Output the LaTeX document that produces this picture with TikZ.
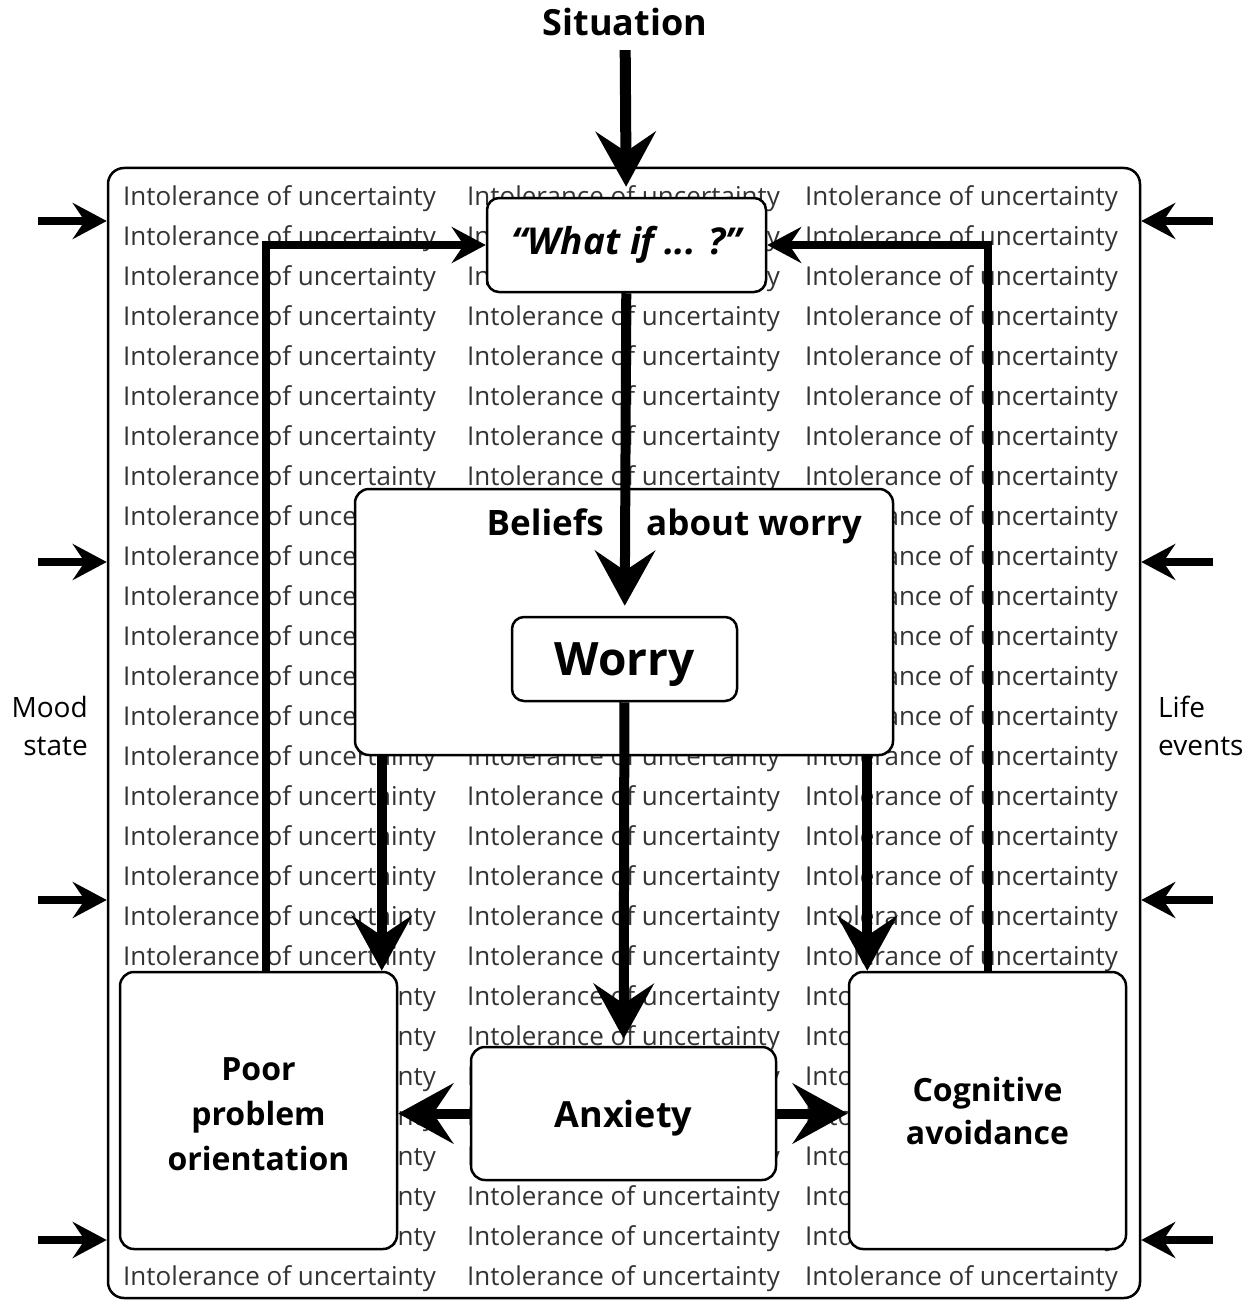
\documentclass[tikz,border=0pt]{standalone}
\usepackage{fontspec}
\setmainfont{Open Sans}
\usetikzlibrary{arrows.meta,calc}
\begin{document}
\begin{tikzpicture}[x=1pt,y=-1pt,
  box/.style={draw,line width=2.5pt,rounded corners=14pt,fill=white,inner sep=0pt},
  bgtext/.style={font=\fontsize{26}{26}\selectfont,text=black!80,inner sep=0pt,anchor=base west},
  bigarrow/.style={-{Stealth[length=55pt,width=60pt,inset=20pt]},line width=10pt},
  smallarrow/.style={-{Stealth[length=34pt,width=36pt,inset=12pt]},line width=8pt},
  boldlbl/.style={font=\bfseries\fontsize{35}{40}\selectfont,inner sep=0pt},
  sidelbl/.style={font=\fontsize{28}{38}\selectfont,inner sep=0pt},
]
\useasboundingbox (0,0) rectangle (1255,1300);

% outer frame
\node[draw,line width=2.5pt,rounded corners=16pt,minimum width=1032pt,minimum height=1130pt,inner sep=0pt] (frame) at (624,733) {};

% background text
\foreach \k in {0,...,27}{
  \foreach \x in {123,467,805}{
    \node[bgtext] (t-\k-\x) at (\x,{205+40*\k}) {Intolerance of uncertainty};
  }
}

% boxes
\node[box,rounded corners=12pt,minimum width=279pt,minimum height=94pt] (whatif) at (626.5,245)
  {\fontsize{37}{37}\selectfont\bfseries\itshape “What if ... ?”};
\node[box,minimum width=538pt,minimum height=266pt] (beliefs) at (624,622) {};
\node[boldlbl,anchor=base east] (bel1) at (604,535) {Beliefs};
\node[boldlbl,anchor=base west] (bel2) at (646,535) {about worry};
\node[box,rounded corners=12pt,minimum width=225pt,minimum height=84pt] (worry) at (624.5,659) {};
\node[inner sep=0pt,font=\fontsize{46}{46}\selectfont\bfseries] (worrytext) at ([yshift=-6pt]worry.center) {Worry};
\node[box,minimum width=305pt,minimum height=133pt] (anxiety) at (623.5,1113.5) {};
\node[inner sep=0pt,font=\fontsize{36}{36}\selectfont\bfseries] (anxtext) at ([yshift=-5pt]anxiety.center) {Anxiety};
\node[box,minimum width=277pt,minimum height=277pt] (poor) at (258.5,1110.5) {};
\node[inner sep=0pt,align=center,font=\bfseries\fontsize{32}{45}\selectfont] (poortext) at ([yshift=-4pt]poor.center)
  {Poor\\problem\\orientation};
\node[box,minimum width=277pt,minimum height=277pt,align=center,font=\bfseries\fontsize{32}{43}\selectfont] (cog) at (987.5,1110.5)
  {Cognitive\\avoidance};

% labels
\node[font=\bfseries\fontsize{36}{36}\selectfont,inner sep=0pt] (sit) at (625,22) {Situation};
\node[sidelbl,align=right,anchor=east] (mood) at (88,726) {Mood\\state};
\node[sidelbl,align=left,anchor=west] (life) at (1158,726) {Life\\events};

% main arrows
\draw[bigarrow,line width=11pt,shorten <=14pt,shorten >=10pt] (sit) -- (whatif);
\draw[bigarrow,shorten >=10pt] (whatif) -- (worry);
\draw[bigarrow,shorten >=7pt] (worry) -- (anxiety);

\coordinate (bl) at ([xshift=28pt]beliefs.south west);
\coordinate (br) at ([xshift=-27pt]beliefs.south east);
\draw[bigarrow] (bl) -- (bl |- poor.north);
\draw[bigarrow] (br) -- (br |- cog.north);

\draw[bigarrow] (anxiety.west) -- (anxiety.west -| poor.east);
\draw[bigarrow] (anxiety.east) -- (anxiety.east -| cog.west);

% loops
\draw[smallarrow] ([xshift=7.5pt]poor.north) |- (whatif.west);
\draw[smallarrow] (cog.north) |- (whatif.east);

% side arrows
\foreach \i/\y in {1/221,2/562,3/900,4/1240}{
  \coordinate (l\i) at (38,\y);
  \coordinate (r\i) at (1213,\y);
  \draw[smallarrow] (l\i) -- (l\i -| frame.west);
  \draw[smallarrow] (r\i) -- (r\i -| frame.east);
}
\end{tikzpicture}
\end{document}
